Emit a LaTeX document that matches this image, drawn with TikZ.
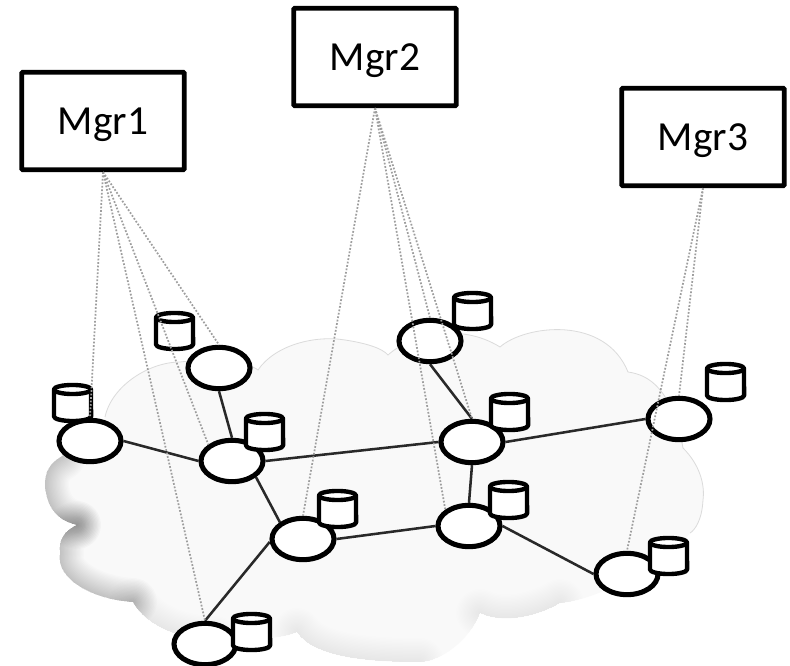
\documentclass[tikz,border=0pt]{standalone}
\usepackage{fontspec}
\setmainfont{Carlito}
\pgfdeclarelayer{back}
\pgfdeclarelayer{top}
\pgfsetlayers{back,main,top}
\definecolor{cloudfill}{gray}{0.978}
\definecolor{cloudrim}{gray}{0.86}
\definecolor{linkc}{gray}{0.16}
\definecolor{mgmt}{gray}{0.62}
\tikzset{
  x=0.75pt,y=-0.75pt,
  mgrbox/.style={draw=black,line width=3.6pt,rounded corners=0.8pt,fill=white,minimum width=122pt,minimum height=73pt,inner sep=0pt,text depth=0pt,font=\fontsize{31}{36}\selectfont},
  devnode/.style={draw=black,ellipse,line width=3.8pt,fill=white,minimum width=46.5pt,minimum height=31pt,inner sep=0pt},
  link/.style={draw=linkc,line width=1.9pt},
  mgmtlink/.style={draw=mgmt,line width=1.3pt,dash pattern=on 1.3pt off 1.3pt},
  cylbody/.style={draw=black,line width=3.3pt,fill=white,line join=round},
  softedge/.style={draw=black,opacity=0.011,line cap=round},
  softeredge/.style={draw=black,opacity=0.005,line cap=round},
}
\usetikzlibrary{shapes.geometric}
% #1 = name, #2 = left line x, #3 = top outer y
\newcommand{\datastore}[3]{%
  \draw[cylbody] (#2,#3+6.5) -- (#2,#3+33.5) arc[start angle=180,end angle=360,x radius=13.9pt,y radius=3.4pt] -- (#2+37,#3+6.5)
     arc[start angle=0,end angle=180,x radius=13.9pt,y radius=3.4pt] -- cycle;
  \draw[black,line width=3.3pt] (#2,#3+6.5) arc[start angle=180,end angle=360,x radius=13.9pt,y radius=3.4pt];
  \coordinate (#1) at (#2+18.5,#3+20);
}
\def\cloudpath{(45,487) .. controls (44,470) and (52,462) .. (62,456)
 .. controls (80,447) and (98,435) .. (105,417)
 .. controls (112,385) and (150,362) .. (180,362)
 .. controls (215,358) and (248,362) .. (258,370)
 .. controls (275,345) and (315,335) .. (345,340)
 .. controls (365,343) and (382,348) .. (388,355)
 .. controls (410,335) and (460,322) .. (500,347)
 .. controls (525,325) and (605,315) .. (628,372)
 .. controls (650,375) and (672,390) .. (683,448)
 .. controls (700,465) and (705,485) .. (703,500)
 .. controls (702,520) and (695,530) .. (690,533)
 .. controls (670,560) and (600,600) .. (560,603)
 .. controls (540,615) and (505,625) .. (480,613)
 .. controls (470,640) and (440,662) .. (420,662)
 .. controls (380,662) and (315,660) .. (297,632)
 .. controls (280,640) and (240,640) .. (215,640)
 .. controls (180,640) and (145,625) .. (133,602)
 .. controls (95,600) and (55,580) .. (60,553)
 .. controls (58,540) and (65,530) .. (77,525)
 .. controls (55,520) and (47,505) .. (45,487) -- cycle}
\begin{document}
\begin{tikzpicture}
\useasboundingbox (0,0) rectangle (790,666);

% managers
\node[mgrbox] (mgr1) at (103,121) {Mgr1};
\node[mgrbox] (mgr2) at (375,57) {Mgr2};
\node[mgrbox] (mgr3) at (703,137) {Mgr3};

% devices
\node[devnode] (n1) at (90,441) {};
\node[devnode] (n2) at (219,368) {};
\node[devnode] (n3) at (232,461) {};
\node[devnode] (n4) at (430,341) {};
\node[devnode] (n5) at (472,442) {};
\node[devnode] (n6) at (679,419) {};
\node[devnode] (n7) at (469,526) {};
\node[devnode] (n8) at (627,574) {};
\node[devnode] (n9) at (303,539) {};
\node[devnode] (n10) at (205,644) {};

\begin{pgfonlayer}{back}
  \path[fill=white] (0,0) rectangle (790,666);
  % cloud
  \path[fill=cloudfill] \cloudpath;
  \begin{scope}
    \clip \cloudpath;
    % soft grey edges of the lobes
    \foreach \w in {2,4,...,36}{
      \draw[softedge,line width=\w pt] (62,456) .. controls (52,462) and (44,470) .. (45,487)
        .. controls (47,505) and (55,520) .. (77,525);
      \draw[softedge,line width=\w pt] (77,525) .. controls (65,530) and (58,540) .. (60,553)
        .. controls (55,580) and (95,600) .. (133,602);
      \draw[softeredge,line width=\w pt] (133,602) .. controls (145,625) and (180,640) .. (215,640);
      \draw[softeredge,line width=\w pt] (297,632) .. controls (315,660) and (380,662) .. (420,662);
      \draw[softeredge,line width=\w pt] (480,613) .. controls (505,625) and (540,615) .. (560,603);
    }
  \end{scope}
  % thin rim along the upper and right side
  \draw[cloudrim,line width=0.6pt] (105,417)
   .. controls (112,385) and (150,362) .. (180,362)
   .. controls (215,358) and (248,362) .. (258,370)
   .. controls (275,345) and (315,335) .. (345,340)
   .. controls (365,343) and (382,348) .. (388,355)
   .. controls (410,335) and (460,322) .. (500,347)
   .. controls (525,325) and (605,315) .. (628,372)
   .. controls (650,375) and (672,390) .. (683,448)
   .. controls (700,465) and (705,485) .. (703,500)
   .. controls (702,520) and (695,530) .. (690,533);

  % links
  \draw[link] (n1.east) -- (n3.west);
  \draw[link] (n2.south) -- (n3.north);
  \draw[link] (n3.east) -- (n5.west);
  \draw[link] (n3.-34) -- (n9.144);
  \draw[link] (n4.south) -- (n5.north);
  \draw[link] (n5.east) -- (n6.west);
  \draw[link] (n5.south) -- (n7.north);
  \draw[link] (n7.west) -- (n9.east);
  \draw[link] (n7.east) -- (n8.west);
  \draw[link] (n9.185) -- (n10.north);
\end{pgfonlayer}

\begin{pgfonlayer}{top}
  % data stores
  \datastore{c1}{54}{383}
  \datastore{c2}{156}{311}
  \datastore{c3}{246}{412}
  \datastore{c4}{454}{291}
  \datastore{c5}{491}{392}
  \datastore{c6}{707}{362}
  \datastore{c7}{490}{480}
  \datastore{c8}{650}{536}
  \datastore{c9}{319}{489}
  \datastore{c10}{233}{612}

  % management
  \draw[mgmtlink] (mgr1.south) -- (n1.north);
  \draw[mgmtlink] (mgr1.south) -- (n2.north);
  \draw[mgmtlink] (mgr1.south) -- (n3.north west);
  \draw[mgmtlink] (mgr1.south) -- (n10.north);
  \draw[mgmtlink] (mgr2.south) -- (n9.north);
  \draw[mgmtlink] (mgr2.south) -- (n4.north);
  \draw[mgmtlink] (mgr2.south) -- (n5.north);
  \draw[mgmtlink] (mgr2.south) -- (n7.north west);
  \draw[mgmtlink] (mgr3.south) -- (n6.north);
  \draw[mgmtlink] (mgr3.south) -- (n8.north);
\end{pgfonlayer}
\end{tikzpicture}
\end{document}
